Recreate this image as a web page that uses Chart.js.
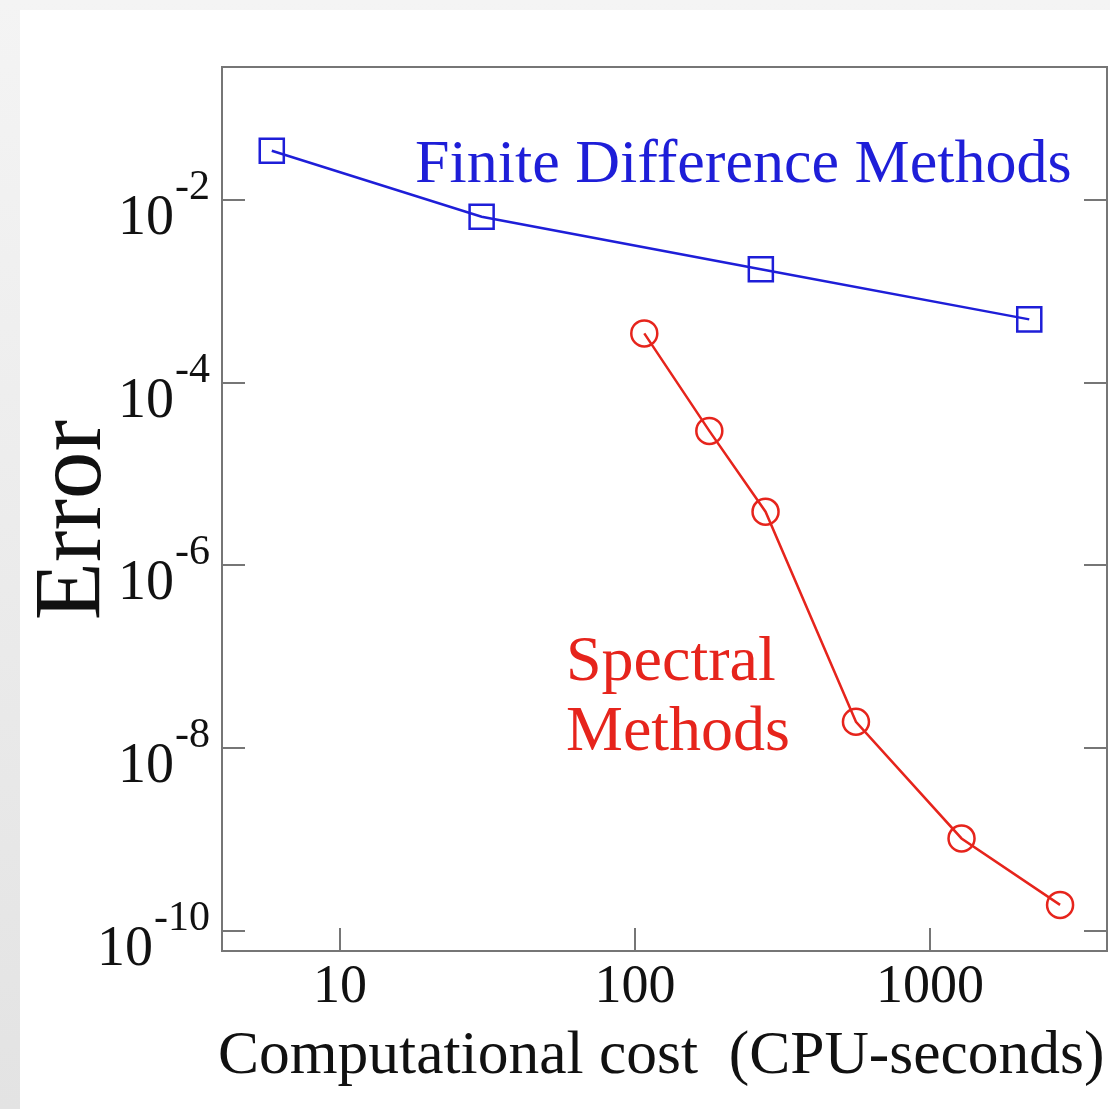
<!DOCTYPE html>
<html>
<head>
<meta charset="utf-8">
<title>Error vs computational cost</title>
<script src="https://cdn.jsdelivr.net/npm/chart.js@4.4.1/dist/chart.umd.min.js"></script>
<style>
  html, body { margin: 0; padding: 0; }
  body {
    width: 1110px; height: 1109px; overflow: hidden; position: relative;
    background: linear-gradient(to bottom, #f4f4f4, #e3e3e3);
  }
  .panel { position: absolute; left: 20px; top: 10px; right: 0; bottom: 0; background: #fff; }
  #chart { position: absolute; left: 0; top: 0; }
</style>
</head>
<body>
<div class="panel"></div>
<canvas id="chart" width="1110" height="1109"></canvas>
<script>
// CPU time (seconds) and error reached by each method
const fdCost = [5.87, 30.2, 267, 2170];
const fdError = [3.46e-2, 6.56e-3, 1.75e-3, 4.94e-4];
const spectralCost = [107.5, 178.6, 277, 561, 1279, 2760];
const spectralError = [3.47e-4, 2.97e-5, 3.88e-6, 1.95e-8, 1.03e-9, 1.93e-10];

// axis ticks
const xTicks = [10, 100, 1000];
const xTickLabels = ['10', '100', '1000'];
const yTicks = [1e-2, 1e-4, 1e-6, 1e-8, 1e-10];
const yTickExponents = ['-2', '-4', '-6', '-8', '-10'];

const SERIF = '"Liberation Serif", "Times New Roman", serif';
const frameColor = '#767676';
const blue = '#1e1ed8';
const red = '#e6241c';

// Box edges, inward tick marks and all the text
const framePlugin = {
    id: 'frame',
    afterDraw(chart) {
        const { ctx, chartArea: a, scales: { x, y } } = chart;
        const len = 23;
        ctx.save();

        // top and right edges (left and bottom come from the axis borders)
        ctx.strokeStyle = frameColor;
        ctx.lineWidth = 2;
        ctx.beginPath();
        ctx.moveTo(a.left, a.top);
        ctx.lineTo(a.right, a.top);
        ctx.lineTo(a.right, a.bottom);
        ctx.stroke();

        // ticks point inward: bottom, left and right sides only
        ctx.beginPath();
        xTicks.forEach(v => {
            const px = Math.round(x.getPixelForValue(v));
            ctx.moveTo(px, a.bottom); ctx.lineTo(px, a.bottom - len);
        });
        yTicks.forEach(v => {
            const py = Math.round(y.getPixelForValue(v));
            ctx.moveTo(a.left, py); ctx.lineTo(a.left + len, py);
            ctx.moveTo(a.right, py); ctx.lineTo(a.right - len, py);
        });
        ctx.stroke();

        ctx.fillStyle = '#111';
        ctx.textBaseline = 'alphabetic';

        // y tick labels as 10 with a raised exponent
        yTicks.forEach((v, i) => {
            const py = y.getPixelForValue(v);
            const right = a.left - 12;
            ctx.font = '42px ' + SERIF;
            ctx.textAlign = 'right';
            const supW = ctx.measureText(yTickExponents[i]).width;
            ctx.fillText(yTickExponents[i], right, py - 1);
            ctx.font = '56px ' + SERIF;
            ctx.fillText('10', right - supW - 1, py + 34);
        });

        // x tick labels
        ctx.font = '54px ' + SERIF;
        ctx.textAlign = 'center';
        xTicks.forEach((v, i) => {
            ctx.fillText(xTickLabels[i], x.getPixelForValue(v), a.bottom + 51);
        });

        // axis titles
        ctx.font = '61.5px ' + SERIF;
        ctx.textAlign = 'left';
        ctx.fillText('Computational cost  (CPU-seconds)', 218, 1073);

        ctx.save();
        ctx.translate(100, 520);
        ctx.rotate(-Math.PI / 2);
        ctx.font = '95px ' + SERIF;
        ctx.textAlign = 'center';
        ctx.fillText('Error', 0, 0);
        ctx.restore();

        // series names
        ctx.textAlign = 'left';
        ctx.font = '62px ' + SERIF;
        ctx.fillStyle = blue;
        ctx.fillText('Finite Difference Methods', 415, 182);
        ctx.font = '64px ' + SERIF;
        ctx.fillStyle = red;
        ctx.fillText('Spectral', 566, 680);
        ctx.fillText('Methods', 566, 750);

        ctx.restore();
    }
};

const hiddenGrid = { display: false, drawTicks: false, tickLength: 0 };

new Chart(document.getElementById('chart'), {
    type: 'line',
    data: {
        datasets: [
            {
                label: 'Finite Difference Methods',
                data: fdCost.map((c, i) => ({ x: c, y: fdError[i] })),
                borderColor: blue,
                borderWidth: 2.5,
                pointStyle: 'rect',
                pointRadius: 17,
                pointBorderWidth: 2.5,
                pointBorderColor: blue,
                pointBackgroundColor: 'transparent',
                tension: 0
            },
            {
                label: 'Spectral Methods',
                data: spectralCost.map((c, i) => ({ x: c, y: spectralError[i] })),
                borderColor: red,
                borderWidth: 2.5,
                pointStyle: 'circle',
                pointRadius: 13,
                pointBorderWidth: 2.5,
                pointBorderColor: red,
                pointBackgroundColor: 'transparent',
                tension: 0
            }
        ]
    },
    options: {
        responsive: false,
        animation: false,
        events: [],
        layout: {
            autoPadding: false,
            padding: { left: 222, top: 67, right: 3, bottom: 158 }
        },
        plugins: {
            legend: { display: false },
            tooltip: { enabled: false }
        },
        scales: {
            x: {
                type: 'logarithmic',
                min: 3.98,
                max: 3981,
                grid: hiddenGrid,
                ticks: { display: false },
                border: { color: frameColor, width: 2 }
            },
            y: {
                type: 'logarithmic',
                min: 6.04e-11,
                max: 0.2855,
                grid: hiddenGrid,
                ticks: { display: false },
                border: { color: frameColor, width: 2 }
            }
        }
    },
    plugins: [framePlugin]
});
</script>
</body>
</html>
